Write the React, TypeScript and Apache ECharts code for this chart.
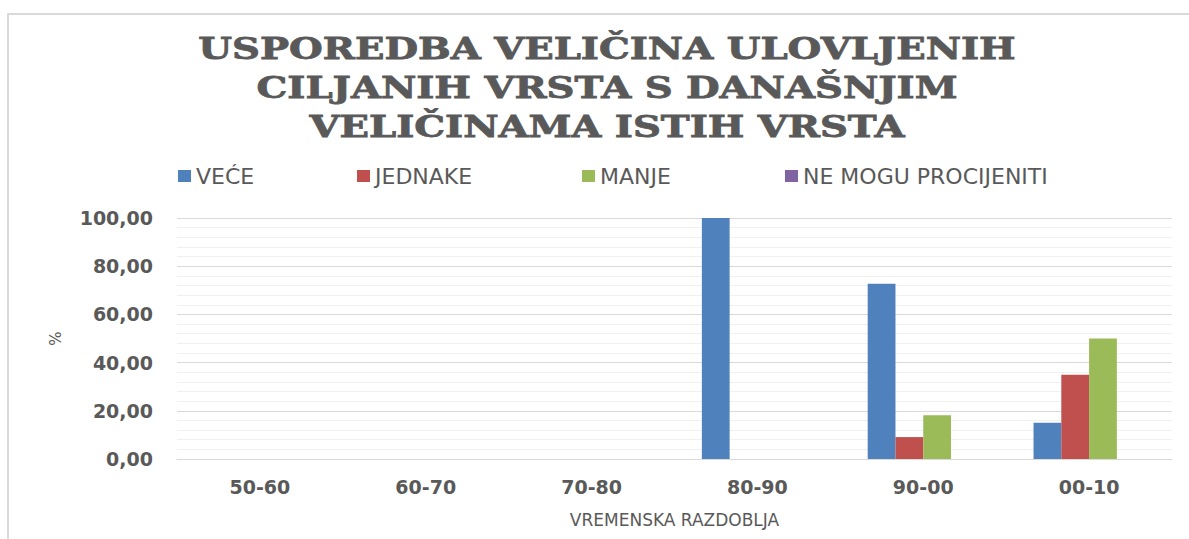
import React, { useEffect, useRef } from "react";
import * as echarts from "echarts";

const categories = ["50-60", "60-70", "70-80", "80-90", "90-00", "00-10"];
const seriesNames = ["VEĆE", "JEDNAKE", "MANJE", "NE MOGU PROCIJENITI"];
const vece = [0, 0, 0, 100, 72.73, 15];
const jednake = [0, 0, 0, 0, 9.09, 35];
const manje = [0, 0, 0, 0, 18.18, 50];
const neMogu = [0, 0, 0, 0, 0, 0];
const colors = ["#4F81BD", "#C0504D", "#9BBB59", "#8064A2"];
const titleLines = [
  "USPOREDBA VELIČINA ULOVLJENIH",
  "CILJANIH VRSTA S DANAŠNJIM",
  "VELIČINAMA ISTIH VRSTA",
];
const legendLefts = [178, 357, 582, 785];

export default function App() {
  const ref = useRef<HTMLDivElement>(null);
  useEffect(() => {
    const chart = echarts.init(ref.current!, null, { renderer: "svg" });
    const data = [vece, jednake, manje, neMogu];
    const gray = "#595959";
    chart.setOption({
      animation: false,
      backgroundColor: "#ffffff",
      color: colors,
      graphic: [
        {
          type: "rect",
          shape: { x: 8, y: 14, width: 1300, height: 700 },
          style: { fill: "none", stroke: "#d9d9d9", lineWidth: 2 },
          silent: true,
        },
        ...titleLines.map((t, i) => ({
          type: "text",
          x: 607,
          y: 48 + i * 39,
          scaleX: 1.29,
          style: {
            text: t,
            font: "bold 30px 'DejaVu Serif'",
            fill: gray,
            stroke: gray,
            lineWidth: 0.8,
            align: "center",
            verticalAlign: "middle",
          },
        })),
      ],
      legend: seriesNames.map((n, i) => ({
        left: legendLefts[i],
        top: 165,
        padding: 0,
        itemWidth: 13,
        itemHeight: 12,
        itemGap: 5,
        icon: "rect",
        textStyle: { fontFamily: "DejaVu Sans", fontSize: 22, color: gray },
        data: [n],
      })),
      grid: { left: 177, right: 17, top: 218, bottom: 80, containLabel: false },
      xAxis: {
        type: "category",
        data: categories,
        axisLine: { lineStyle: { color: "#d9d9d9" } },
        axisTick: { show: false },
        axisLabel: {
          fontFamily: "DejaVu Sans",
          fontWeight: "bold",
          fontSize: 19,
          color: gray,
          margin: 18,
        },
        name: "VREMENSKA RAZDOBLJA",
        nameLocation: "middle",
        nameGap: 52,
        nameTextStyle: { fontFamily: "DejaVu Sans", fontSize: 17, color: gray },
      },
      yAxis: {
        type: "value",
        min: 0,
        max: 100,
        interval: 20,
        axisLine: { show: false },
        axisTick: { show: false },
        axisLabel: {
          fontFamily: "DejaVu Sans",
          fontWeight: "bold",
          fontSize: 19,
          color: gray,
          margin: 24,
          formatter: (v: number) => v.toFixed(2).replace(".", ","),
        },
        splitLine: { lineStyle: { color: "#d9d9d9", width: 1 } },
        minorTick: { show: false, splitNumber: 5 },
        minorSplitLine: { show: true, lineStyle: { color: "#f0f0f0", width: 1 } },
        name: "%",
        nameLocation: "middle",
        nameRotate: 90,
        nameGap: 114,
        nameTextStyle: { fontFamily: "DejaVu Sans", fontSize: 15, color: gray },
      },
      series: seriesNames.map((n, i) => ({
        name: n,
        type: "bar",
        data: data[i],
        barGap: "0%",
        barCategoryGap: "33%",
      })),
    });
    return () => chart.dispose();
  }, []);
  return (
    <div
      ref={ref}
      style={{ position: "fixed", left: 0, top: 0, width: 1189, height: 539 }}
    />
  );
}
